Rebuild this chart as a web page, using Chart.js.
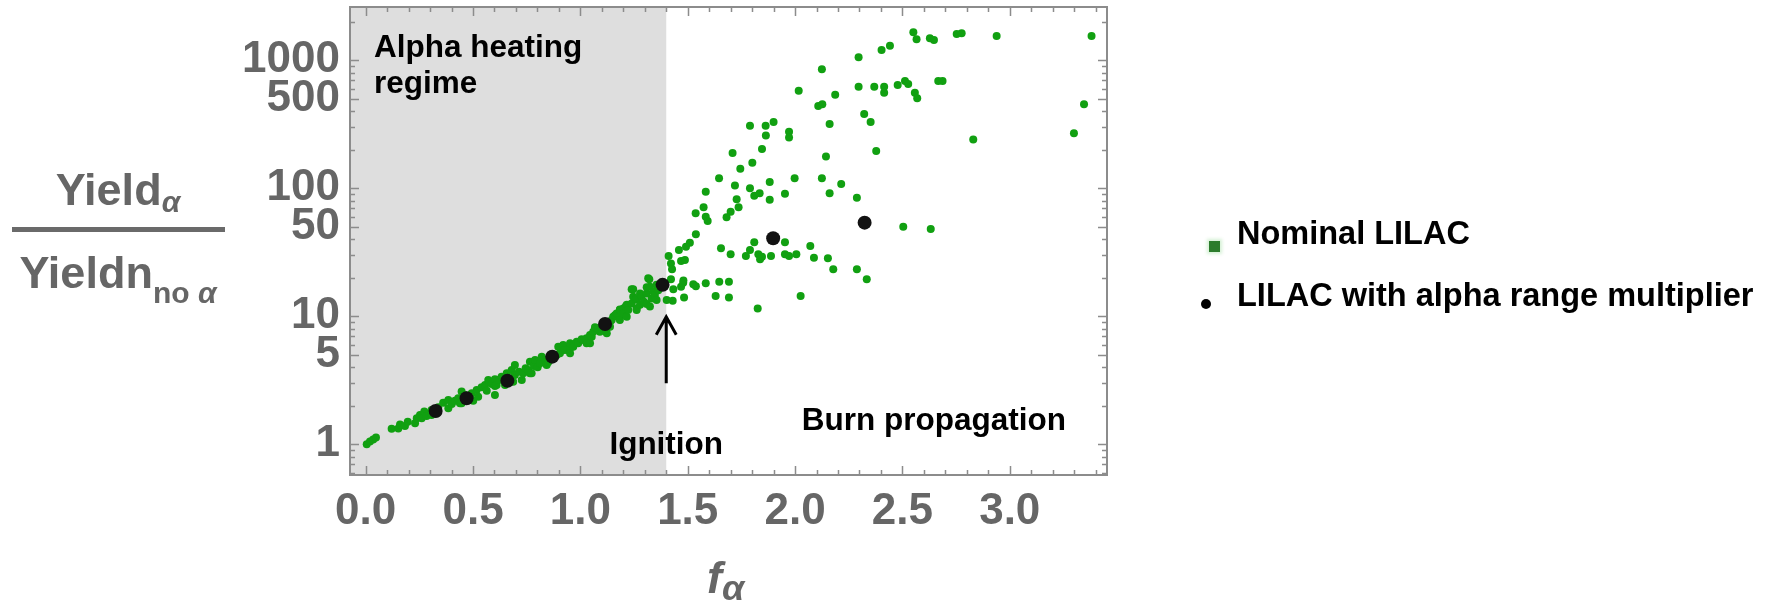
<!DOCTYPE html>
<html lang="en">
<head>
  <meta charset="UTF-8" />
  <title>Yield amplification vs f_alpha</title>
  <style>
    body {
      margin: 0;
      background: #fff;
      font-family: "Liberation Sans", Arial, sans-serif;
    }
    #wrap {
      position: relative;
      width: 1773px;
      height: 602px;
    }
    #chart {
      position: absolute;
      left: 0;
      top: 0;
    }
    .gray {
      position: absolute;
      color: #666;
      font-weight: bold;
      font-size: 45px;
      line-height: 45px;
      white-space: nowrap;
    }
    .sub {
      line-height: 0;
    }
    .frac {
      left: 0;
      width: 236px;
      text-align: center;
    }
    #fracBar {
      position: absolute;
      left: 12px;
      top: 227px;
      width: 213px;
      height: 5px;
      background: #6a6a6a;
    }
    .legend {
      position: absolute;
      left: 1237px;
      font-weight: bold;
      font-size: 32.5px;
      line-height: 32.5px;
      color: #000;
      white-space: nowrap;
    }
    #markNominal {
      position: absolute;
      left: 1209px;
      top: 241px;
      width: 11px;
      height: 11px;
      background: #2c7c2c;
      box-shadow: 0 0 3px 2px rgba(90, 200, 90, 0.25);
    }
    #markAlpha {
      position: absolute;
      left: 1201px;
      top: 299px;
      width: 10px;
      height: 10px;
      border-radius: 50%;
      background: #000;
    }
  </style>
</head>
<body>
  <div id="wrap">
    <canvas id="chart" width="1773" height="602"></canvas>

    <div class="gray frac" style="top:167px">Yield<span class="sub" style="font-size:30px;font-style:italic;vertical-align:-7px">α</span></div>
    <div id="fracBar"></div>
    <div class="gray frac" style="top:250px">Yieldn<span class="sub" style="font-size:30px;vertical-align:-15px">no <i>α</i></span></div>

    <div class="gray" style="left:707px;top:555px;font-style:italic">f<span class="sub" style="font-size:36px;vertical-align:-7px">α</span></div>

    <div id="markNominal"></div>
    <div class="legend" style="top:217px">Nominal LILAC</div>
    <div id="markAlpha"></div>
    <div class="legend" style="top:279px">LILAC with alpha range multiplier</div>
  </div>

  <script src="https://cdn.jsdelivr.net/npm/chart.js"></script>
  <script>
    // axis ranges
    const xMin = -0.073;
    const xMax = 3.453;
    const yMin = 0.5755;
    const yMax = 2609;

    // labelled ticks
    const xLabelTicks = [0, 0.5, 1.0, 1.5, 2.0, 2.5, 3.0];
    const yLabelTicks = [1, 5, 10, 50, 100, 500, 1000];
    const yDecades = [0.1, 1, 10, 100, 1000];

    // ignition threshold and arrow span
    const ignitionX = 1.4;
    const arrowFrom = 3.0;
    const arrowTo = 9.9;

    // LILAC runs with the alpha range multiplier [f_alpha, yield ratio]
    const alphaMultiplier = [
      [0.326, 1.82], [0.470, 2.29], [0.660, 3.14], [0.869, 4.84],
      [1.115, 8.71], [1.383, 17.6], [1.898, 40.7], [2.324, 53.9]
    ];

    // nominal LILAC runs, alpha heating regime
    const nominalHeating = [
      [0.005, 1.00], [0.020, 1.05], [0.035, 1.09], [0.048, 1.13],
      [0.121, 1.32], [0.152, 1.33], [0.160, 1.43], [0.183, 1.39], [0.196, 1.50],
      [0.230, 1.46], [0.238, 1.60], [0.253, 1.69], [0.261, 1.60], [0.273, 1.80], [0.284, 1.66],
      [0.307, 1.85], [0.307, 1.69], [0.331, 1.75], [0.338, 1.95], [0.361, 2.11], [0.385, 2.22],
      [0.385, 1.91], [0.401, 2.06], [0.416, 2.19], [0.431, 2.29], [0.439, 2.09], [0.447, 2.09],
      [0.447, 2.58], [0.462, 2.43],
      [0.494, 2.50], [0.501, 2.19], [0.517, 2.66], [0.524, 2.35], [0.540, 2.79], [0.556, 2.91],
      [0.564, 2.62], [0.571, 3.18], [0.587, 2.96], [0.602, 2.85], [0.602, 3.22], [0.602, 2.43],
      [0.610, 2.91], [0.621, 3.18], [0.633, 3.37], [0.649, 2.91], [0.657, 3.59], [0.664, 3.28],
      [0.680, 3.81], [0.687, 3.08], [0.695, 3.48], [0.695, 4.17], [0.714, 3.69], [0.727, 3.18],
      [0.734, 3.59], [0.745, 3.92], [0.757, 3.81], [0.765, 4.42], [0.765, 3.59], [0.773, 3.59],
      [0.784, 4.09], [0.789, 4.56], [0.801, 4.00], [0.812, 4.29], [0.820, 4.84], [0.835, 4.56],
      [0.843, 4.17], [0.850, 4.37], [0.874, 4.78], [0.890, 4.99],
      [0.897, 5.79], [0.905, 5.14], [0.920, 5.97], [0.928, 5.45], [0.952, 5.62], [0.952, 5.14],
      [0.952, 6.15], [0.967, 5.97], [0.967, 5.79], [0.983, 6.33], [0.990, 6.15], [1.006, 6.61],
      [1.014, 6.53], [1.029, 6.73], [1.029, 6.15], [1.045, 7.14], [1.045, 6.15], [1.053, 6.93],
      [1.060, 7.58], [1.068, 8.20], [1.083, 8.06], [1.091, 7.58], [1.123, 8.06], [1.123, 7.36],
      [1.138, 9.08], [1.138, 8.30], [1.146, 9.35], [1.153, 9.93], [1.161, 10.2], [1.169, 10.5],
      [1.184, 11.2], [1.184, 9.93], [1.184, 11.3], [1.184, 9.35], [1.200, 11.5], [1.200, 10.5],
      [1.212, 12.0], [1.216, 12.3], [1.216, 9.93], [1.223, 11.2], [1.239, 12.6], [1.239, 16.3],
      [1.246, 16.3], [1.246, 14.2], [1.259, 13.6], [1.262, 13.8], [1.262, 11.5], [1.262, 11.2],
      [1.278, 12.3], [1.278, 15.1], [1.285, 14.2], [1.296, 13.0], [1.309, 15.1], [1.309, 12.5],
      [1.309, 16.9], [1.316, 19.8], [1.321, 19.5], [1.324, 17.0], [1.324, 11.9], [1.332, 13.8],
      [1.340, 15.6], [1.347, 14.7], [1.355, 17.6], [1.355, 13.4], [1.363, 16.0]
    ];

    // nominal LILAC runs past ignition
    const nominalBurn = [
      [2.551, 1655], [2.566, 1459], [2.628, 1486], [2.647, 1442], [2.753, 1605], [2.776, 1625],
      [2.939, 1549], [3.381, 1549], [2.403, 1203], [2.442, 1300], [2.296, 1055], [2.125, 851],
      [2.017, 579], [2.187, 539], [2.296, 622], [2.369, 622], [2.415, 622], [2.415, 558],
      [2.478, 641], [2.512, 689], [2.527, 653], [2.558, 558], [2.569, 505], [2.667, 689],
      [2.687, 689], [2.108, 440], [2.127, 453], [3.346, 453], [3.299, 269], [2.830, 241],
      [2.322, 381], [2.352, 330], [2.378, 196], [2.161, 318],
      [1.790, 308], [1.863, 308], [1.900, 330], [1.864, 259], [1.972, 277], [1.972, 249],
      [1.846, 203], [1.709, 189], [1.801, 158], [1.745, 142], [2.144, 177],
      [1.646, 120], [1.998, 120], [2.125, 120], [2.215, 108], [1.720, 105], [1.790, 100],
      [1.810, 87.5], [1.835, 91.4], [1.882, 112], [1.882, 81.5], [1.953, 90.7], [2.161, 91.4],
      [2.288, 84.5], [1.584, 94.0], [1.574, 71.1], [1.537, 63.8], [1.584, 60.0], [1.593, 55.6],
      [1.728, 82.0], [1.737, 71.1], [1.700, 65.6], [1.681, 59.3],
      [1.538, 43.7], [1.510, 37.6], [1.492, 35.0], [1.459, 33.0], [1.411, 29.6], [1.422, 25.9],
      [1.427, 23.3], [1.469, 27.0], [1.487, 27.5], [1.655, 34.0], [1.700, 30.5], [1.810, 37.9],
      [1.790, 33.0], [1.771, 29.6], [1.829, 30.5], [1.837, 27.9], [1.846, 29.2], [1.888, 29.6],
      [1.953, 37.9], [1.953, 30.5], [1.972, 29.6], [2.006, 30.5], [2.071, 35.4], [2.088, 28.7],
      [2.153, 28.4], [2.178, 23.3], [2.288, 23.3], [2.334, 19.5], [2.504, 50.1], [2.632, 48.1],
      [1.422, 19.5], [1.433, 16.3], [1.469, 17.0], [1.479, 18.3], [1.526, 17.8], [1.538, 17.2],
      [1.584, 18.1], [1.647, 18.6], [1.692, 18.6], [1.630, 14.4], [1.692, 14.0], [1.483, 14.0],
      [2.026, 14.4], [1.826, 11.5], [1.402, 13.4], [1.430, 13.2], [1.480, 19.0]
    ];

    const toPoints = arr => arr.map(([x, y]) => ({ x, y }));

    // every log tick inside the range: 0.6 ... 2000
    const yAllTicks = [];
    for (const d of yDecades) {
      for (let m = 1; m <= 9; m++) {
        const v = +(m * d).toPrecision(3);
        if (v >= yMin && v <= yMax) yAllTicks.push(v);
      }
    }

    const tickFont = { family: "'Liberation Sans', Arial, sans-serif", size: 44, weight: 'bold' };
    const noteFont = "bold 31.5px 'Liberation Sans', Arial, sans-serif";

    // shaded regime, inward frame ticks, notes and ignition arrow
    const framePlugin = {
      id: 'frame',
      beforeDatasetsDraw(chart) {
        const { ctx, chartArea: a, scales: { x } } = chart;
        const xi = x.getPixelForValue(ignitionX);
        ctx.save();
        ctx.fillStyle = '#dedede';
        ctx.fillRect(a.left, a.top, xi - a.left, a.bottom - a.top);
        ctx.restore();
      },
      afterDatasetsDraw(chart) {
        const { ctx, chartArea: a, scales: { x, y } } = chart;
        ctx.save();
        ctx.strokeStyle = '#8c8c8c';
        ctx.lineWidth = 2;
        ctx.strokeRect(a.left, a.top, a.right - a.left, a.bottom - a.top);

        ctx.lineWidth = 1.5;
        ctx.beginPath();
        for (const v of yAllTicks) {
          const py = Math.round(y.getPixelForValue(v)) + 0.5;
          const len = yLabelTicks.includes(v) ? 9 : 5;
          ctx.moveTo(a.left, py); ctx.lineTo(a.left + len, py);
          ctx.moveTo(a.right, py); ctx.lineTo(a.right - len, py);
        }
        for (let i = 0; i <= 34; i++) {
          const px = Math.round(x.getPixelForValue(i / 10)) + 0.5;
          const len = i % 5 === 0 ? 9 : 5;
          ctx.moveTo(px, a.bottom); ctx.lineTo(px, a.bottom - len);
          ctx.moveTo(px, a.top); ctx.lineTo(px, a.top + len);
        }
        ctx.stroke();

        // region notes
        ctx.fillStyle = '#000';
        ctx.font = noteFont;
        ctx.textBaseline = 'alphabetic';
        ctx.textAlign = 'left';
        ctx.fillText('Alpha heating', a.left + 24, a.top + 50);
        ctx.fillText('regime', a.left + 24, a.top + 86);
        ctx.fillText('Burn propagation', x.getPixelForValue(2.031), a.bottom - 45);
        const xi = x.getPixelForValue(ignitionX);
        ctx.textAlign = 'center';
        ctx.fillText('Ignition', xi, a.bottom - 21);

        // ignition arrow
        const y0 = y.getPixelForValue(arrowFrom);
        const y1 = y.getPixelForValue(arrowTo);
        ctx.strokeStyle = '#000';
        ctx.lineWidth = 3;
        ctx.beginPath();
        ctx.moveTo(xi, y0); ctx.lineTo(xi, y1);
        ctx.moveTo(xi - 10, y1 + 18); ctx.lineTo(xi, y1); ctx.lineTo(xi + 10, y1 + 18);
        ctx.stroke();
        ctx.restore();
      }
    };

    const ctx = document.getElementById('chart').getContext('2d');
    new Chart(ctx, {
      type: 'scatter',
      data: {
        datasets: [
          {
            label: 'LILAC with alpha range multiplier',
            data: toPoints(alphaMultiplier),
            backgroundColor: '#121212',
            borderWidth: 0,
            pointRadius: 7,
            order: 0
          },
          {
            label: 'Nominal LILAC',
            data: toPoints(nominalHeating.concat(nominalBurn)),
            backgroundColor: '#11a011',
            borderWidth: 0,
            pointRadius: 4,
            order: 1
          }
        ]
      },
      options: {
        responsive: false,
        animation: false,
        layout: { autoPadding: false, padding: { top: 7, right: 666, left: 0, bottom: 0 } },
        plugins: { legend: { display: false }, tooltip: { enabled: false } },
        scales: {
          x: {
            type: 'linear',
            min: xMin,
            max: xMax,
            grid: { display: false, drawTicks: false },
            border: { display: false },
            afterBuildTicks: s => { s.ticks = xLabelTicks.map(v => ({ value: v })); },
            afterFit: s => {
              s.height = 127;
              s.paddingLeft = s.paddingRight = s.paddingTop = s.paddingBottom = 0;
            },
            ticks: {
              autoSkip: false,
              maxRotation: 0,
              padding: 10,
              color: '#666',
              font: tickFont,
              callback: v => Number(v).toFixed(1)
            }
          },
          y: {
            type: 'logarithmic',
            min: yMin,
            max: yMax,
            grid: { display: false, drawTicks: false },
            border: { display: false },
            afterBuildTicks: s => { s.ticks = yAllTicks.map(v => ({ value: v })); },
            afterFit: s => {
              s.width = 350;
              s.paddingLeft = s.paddingRight = s.paddingTop = s.paddingBottom = 0;
            },
            ticks: {
              autoSkip: false,
              padding: 10,
              color: '#666',
              font: tickFont,
              callback: v => (yLabelTicks.includes(v) ? String(v) : '')
            }
          }
        }
      },
      plugins: [framePlugin]
    });
  </script>
</body>
</html>
